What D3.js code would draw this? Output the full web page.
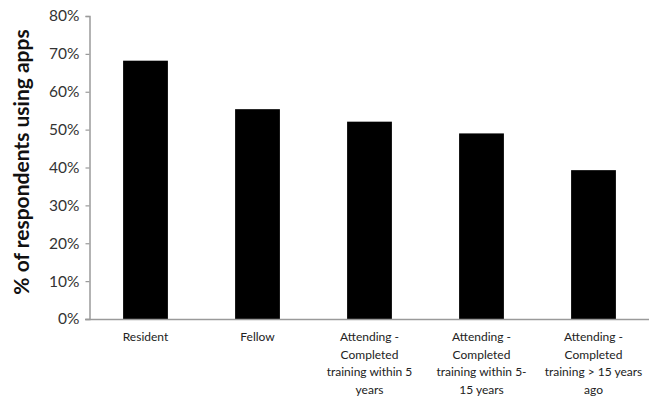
<!DOCTYPE html>
<html><head><meta charset="utf-8">
<script src="https://cdn.jsdelivr.net/npm/d3@7"></script>
<style>body{margin:0;background:#fff}svg{display:block}</style>
</head><body>
<script>
const categories = ["Resident","Fellow","Attending - Completed training within 5 years","Attending - Completed training within 5-15 years","Attending - Completed training > 15 years ago"];
const categoryLines = [["Resident"],["Fellow"],["Attending -","Completed","training within 5","years"],["Attending -","Completed","training within 5-","15 years"],["Attending -","Completed","training > 15 years","ago"]];
const values = [0.682, 0.554, 0.521, 0.49, 0.393];
const yTicks = [0,0.1,0.2,0.3,0.4,0.5,0.6,0.7,0.8];
const yTitle = "% of respondents using apps";

const W=657,H=400;
const svg=d3.select("body").append("svg").attr("width",W).attr("height",H);
const x=d3.scaleBand().domain(categories).range([89.5,649.5]).paddingInner(0.6).paddingOuter(0.3);
const y=d3.scaleLinear().domain([0,0.8]).range([319,16]);

svg.selectAll("rect.bar").data(values).enter().append("rect")
  .attr("class","bar").attr("x",(d,i)=>x(categories[i])).attr("width",x.bandwidth())
  .attr("y",d=>y(d)).attr("height",d=>y(0)-y(d)).attr("fill","#000");

const yAxis=svg.append("g").attr("transform","translate(89.5,0)")
  .call(d3.axisLeft(y).tickValues(yTicks).tickFormat(d3.format(".0%")).tickSizeOuter(0).tickSize(4).tickPadding(6));
yAxis.select(".domain").attr("stroke","#9a9a9a").attr("stroke-width",1.5);
yAxis.selectAll(".tick line").attr("stroke","#9a9a9a").attr("stroke-width",1.2);
yAxis.selectAll(".tick text").attr("fill","#333").style("font-family","Lato, 'Open Sans', sans-serif").style("font-size","15.5px");

svg.append("line").attr("x1",85).attr("x2",649).attr("y1",319.5).attr("y2",319.5).attr("stroke","#9a9a9a").attr("stroke-width",1.5);

const xl=svg.append("g");
categories.forEach((c,i)=>{
  const cx=x(c)+x.bandwidth()/2;
  const t=xl.append("text").attr("x",cx).attr("y",341).attr("text-anchor","middle")
    .attr("fill","#222").style("font-family","Lato, 'Open Sans', sans-serif").style("font-size","12px");
  categoryLines[i].forEach((l,j)=>t.append("tspan").attr("x",cx).attr("dy",j?17.5:0).text(l));
});

svg.append("text").attr("transform","translate(29,162) rotate(-90)").attr("text-anchor","middle")
  .attr("fill","#111").style("font-family","Lato, 'Open Sans', sans-serif").style("font-weight","bold").style("font-size","21px")
  .text(yTitle);
</script>
</body></html>
